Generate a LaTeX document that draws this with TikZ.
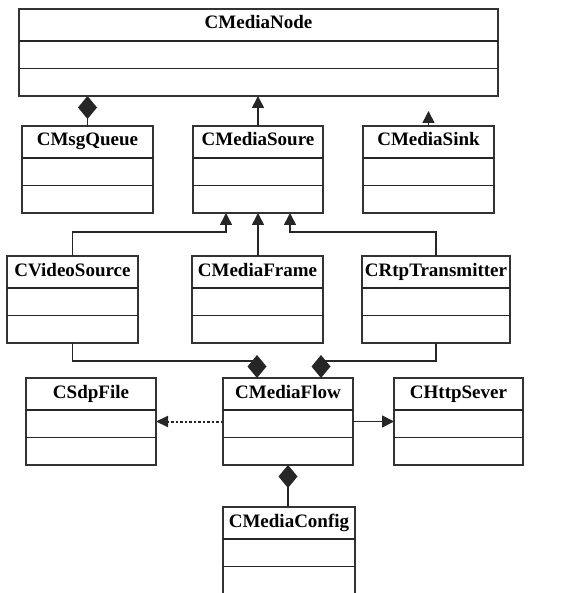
\documentclass[tikz,border=0pt]{standalone}
\usepackage{fontspec}
\setmainfont{Liberation Serif}
\usetikzlibrary{arrows.meta,calc}

\tikzset{
  classbox/.style={draw=black!80, line width=2pt, inner sep=0pt, outer sep=0pt, minimum height=87pt},
  classname/.style={anchor=base, inner sep=0pt, font=\fontsize{19}{22}\selectfont\bfseries},
  divider/.style={draw=black!85, line width=1.5pt},
  link/.style={draw=black!85, line width=1.6pt},
  comp/.style={link, -{Diamond[length=23pt,width=19pt]}},
  inherit/.style={link, -{Triangle[length=12pt,width=12pt]}},
  dep/.style={link, line width=2pt, dash pattern=on 2.5pt off 2pt, -{Triangle[length=12pt,width=11pt]}}
}

% name, top-left corner, width, title
\newcommand{\umlclass}[4]{%
  \node[classbox, minimum width=#3pt, anchor=north west] (#1) at (#2) {};
  \node[classname] at ($(#1.north)+(0,20)$) {#4};
  \draw[divider] ($(#1.north west)!0.37!(#1.south west)$) -- ($(#1.north east)!0.37!(#1.south east)$);
  \draw[divider] ($(#1.north west)!0.685!(#1.south west)$) -- ($(#1.north east)!0.685!(#1.south east)$);
}

\begin{document}
\begin{tikzpicture}[x=1pt, y=-1pt]
    \useasboundingbox (0,0) rectangle (576,593);
    % classes
    \umlclass{mnode}{19,9}{479}{CMediaNode}
    \umlclass{msgq}{22,126}{131}{CMsgQueue}
    \umlclass{msrc}{193,126}{130}{CMediaSoure}
    \umlclass{msink}{363,126}{131}{CMediaSink}
    \umlclass{vsrc}{7,256}{131}{CVideoSource}
    \umlclass{mframe}{192,256}{131}{CMediaFrame}
    \umlclass{rtp}{362,256}{148}{CRtpTransmitter}
    \umlclass{sdp}{26,378}{130}{CSdpFile}
    \umlclass{mflow}{223,378}{130}{CMediaFlow}
    \umlclass{http}{394,378}{129}{CHttpSever}
    \umlclass{mcfg}{223,507}{132}{CMediaConfig}
    \coordinate (sinkend) at (428.5,111);

    % connectors
    \draw[comp] (msgq.north) -- (msgq.north |- mnode.south);
    \draw[inherit] (msrc.north) -- (msrc.north |- mnode.south);
    \draw[inherit] (msink.north) -- (sinkend);
    \draw[inherit] (vsrc.north) -- ++(0,-24) -| ([xshift=-32pt]msrc.south);
    \draw[inherit] (msrc.south |- mframe.north) -- (msrc.south);
    \draw[inherit] (rtp.north) -- ++(0,-24) -| ([xshift=32pt]msrc.south);
    \draw[comp] (vsrc.south) -- ++(0,18) -| ([xshift=-31pt]mflow.north);
    \draw[comp] (rtp.south) -- ++(0,18) -| ([xshift=33pt]mflow.north);
    \draw[dep] (mflow.west) -- (sdp.east);
    \draw[inherit] (mflow.east) -- (http.west);
    \draw[comp] (mflow.south |- mcfg.north) -- (mflow.south);
\end{tikzpicture}
\end{document}
